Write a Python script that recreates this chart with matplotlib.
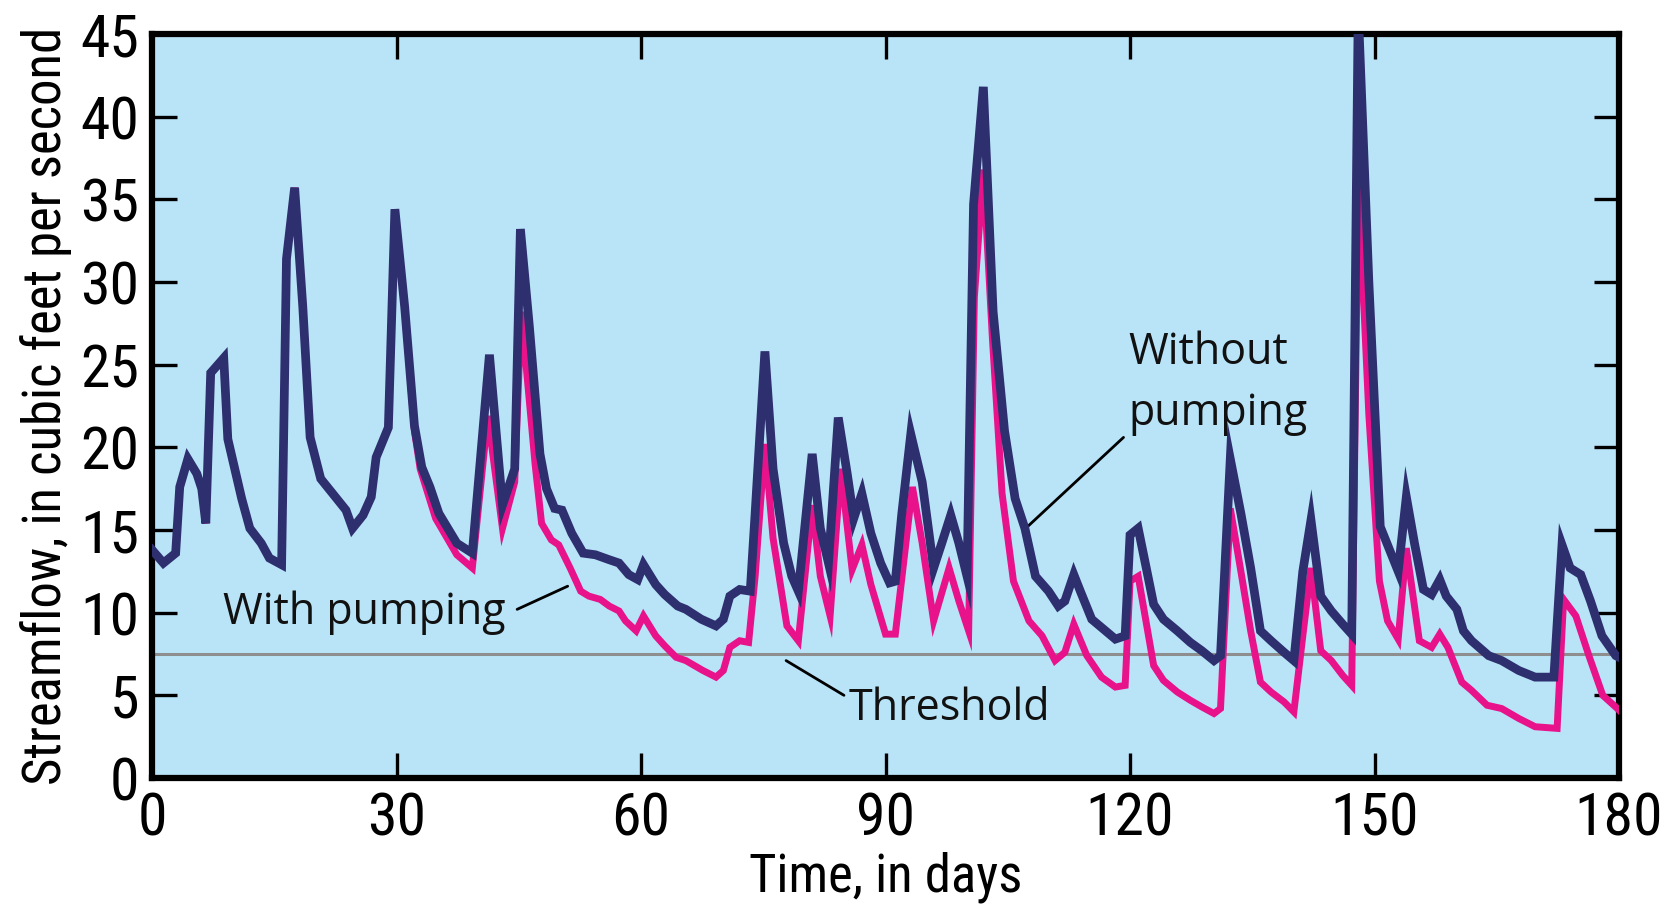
import os
import matplotlib
matplotlib.use("Agg")
import matplotlib.pyplot as plt
from matplotlib import font_manager as fm
from matplotlib.font_manager import FontProperties

# ---------------- data ----------------
days_without = [0, 1.4, 2.9, 3.4, 4.4, 5.5, 6.1, 6.6, 7.2, 8.8, 9.3, 10.1, 11.0, 12.0, 13.4,
                14.4, 15.9, 16.5, 17.5, 18.5, 19.4, 20.7, 23.8, 24.6, 25.9, 26.9, 27.5, 29.0,
                29.8, 31.0, 32.2, 33.1, 34.1, 35.2, 37.4, 39.3, 41.4, 43.0, 44.5, 45.2, 46.3,
                47.6, 48.4, 49.4, 50.3, 51.5, 52.9, 54.4, 56.1, 57.3, 58.5, 59.6, 60.3, 61.8,
                62.9, 64.5, 65.5, 67.4, 69.2, 70.1, 70.9, 72.1, 73.4, 74.0, 75.2, 76.2, 77.5,
                78.5, 79.3, 81.0, 82.0, 83.0, 84.2, 85.3, 86.1, 87.1, 88.2, 89.4, 90.5, 91.2,
                92.0, 93.1, 94.5, 95.9, 96.9, 98.0, 99.0, 100.0, 100.8, 102.0, 103.2, 104.6,
                105.9, 107.1, 108.4, 110.0, 111.2, 112.0, 113.1, 113.9, 115.3, 117.0, 118.2,
                119.4, 120.0, 121.0, 122.9, 124.1, 125.8, 127.4, 128.8, 130.3, 131.1, 132.3,
                133.6, 134.8, 136.0, 137.3, 138.9, 140.1, 141.2, 142.2, 143.4, 144.7, 146.1,
                147.2, 148.0, 149.3, 150.7, 152.9, 153.9, 154.9, 156.0, 157.0, 158.0, 158.8,
                160.1, 160.9, 161.9, 164.0, 165.6, 167.7, 169.7, 172.0, 173.0, 174.0, 175.3,
                176.5, 177.9, 179.6, 180.0]
flow_without = [13.8, 13.0, 13.6, 17.6, 19.3, 18.4, 17.5, 15.4, 24.5, 25.4, 20.5, 18.8, 16.9,
                15.1, 14.2, 13.3, 12.9, 31.4, 35.7, 28.5, 20.6, 18.1, 16.2, 15.1, 15.9, 17.0,
                19.4, 21.2, 34.4, 28.5, 21.3, 18.8, 17.6, 16.0, 14.2, 13.6, 25.6, 16.5, 18.7,
                33.2, 27.3, 19.6, 17.5, 16.3, 16.2, 14.8, 13.6, 13.5, 13.2, 13.0, 12.3, 12.0,
                12.9, 11.7, 11.1, 10.4, 10.2, 9.6, 9.2, 9.6, 11.0, 11.4, 11.3, 16.0, 25.8,
                18.7, 14.2, 12.2, 11.3, 19.6, 15.1, 13.0, 21.8, 18.4, 15.7, 17.2, 14.8, 13.0,
                11.8, 11.9, 16.0, 20.8, 17.9, 12.7, 14.2, 15.9, 14.2, 12.2, 34.7, 41.8, 28.2,
                21.0, 16.9, 15.1, 12.2, 11.3, 10.4, 10.7, 12.3, 11.3, 9.6, 8.9, 8.4, 8.6, 14.7,
                15.1, 10.5, 9.6, 8.9, 8.2, 7.7, 7.1, 7.4, 19.3, 16.0, 12.7, 8.9, 8.3, 7.6, 7.1,
                12.5, 15.6, 11.0, 10.1, 9.3, 8.7, 46.5, 30.0, 15.2, 12.5, 17.0, 14.2, 11.4,
                11.1, 12.0, 11.0, 10.2, 8.9, 8.3, 7.4, 7.1, 6.5, 6.1, 6.1, 14.1, 12.7, 12.3,
                10.7, 8.6, 7.4, 7.3]

days_with = [0, 1.4, 2.9, 3.4, 4.4, 5.5, 6.1, 6.6, 7.2, 8.8, 9.3, 10.1, 11.0, 12.0, 13.4,
             14.4, 15.9, 16.5, 17.5, 18.5, 19.4, 20.7, 23.8, 24.6, 25.9, 26.9, 27.5, 29.0,
             29.8, 31.0, 32.2, 32.9, 34.8, 37.4, 39.3, 41.2, 43.0, 44.5, 45.3, 47.0, 47.8,
             49.0, 49.9, 51.3, 52.6, 53.6, 55.0, 56.1, 57.3, 58.1, 59.4, 60.3, 61.8, 62.9,
             64.3, 65.5, 67.6, 69.2, 70.1, 70.9, 72.1, 73.2, 74.0, 75.2, 76.2, 77.9, 79.3,
             81.0, 82.0, 83.2, 84.5, 85.9, 87.1, 88.2, 90.0, 91.2, 93.3, 94.5, 95.9, 97.8,
             99.0, 100.2, 100.9, 102.0, 103.1, 104.3, 105.7, 107.6, 109.2, 110.8, 112.0,
             113.1, 114.7, 116.5, 118.2, 119.4, 120.0, 121.0, 122.9, 124.1, 125.8, 127.4,
             128.8, 130.3, 131.1, 132.3, 133.6, 134.8, 136.0, 137.3, 138.9, 140.1, 141.2,
             142.2, 143.4, 144.7, 146.1, 147.2, 148.0, 149.3, 150.6, 151.6, 152.9, 153.9,
             155.5, 157.0, 158.0, 159.0, 160.7, 161.9, 163.8, 165.6, 167.7, 169.7, 172.4,
             173.2, 174.7, 176.3, 178.0, 179.8, 180.0]
flow_with = [13.8, 13.0, 13.6, 17.6, 19.3, 18.4, 17.5, 15.4, 24.5, 25.4, 20.5, 18.8, 16.9,
             15.1, 14.2, 13.3, 12.9, 31.4, 35.7, 28.5, 20.6, 18.1, 16.2, 15.1, 15.9, 17.0,
             19.4, 21.2, 34.4, 28.5, 21.0, 18.7, 15.7, 13.5, 12.7, 21.9, 15.1, 17.9, 28.2,
             19.0, 15.4, 14.4, 14.1, 12.7, 11.3, 11.0, 10.8, 10.4, 10.1, 9.5, 8.9, 9.8, 8.6,
             8.0, 7.3, 7.1, 6.5, 6.1, 6.5, 7.9, 8.3, 8.2, 12.2, 20.2, 14.5, 9.2, 8.3, 16.5,
             12.2, 9.8, 18.7, 12.6, 14.1, 11.7, 8.7, 8.7, 17.6, 14.2, 9.5, 12.7, 10.7, 8.9,
             29.1, 36.8, 26.7, 17.2, 11.9, 9.5, 8.6, 7.1, 7.6, 9.3, 7.4, 6.1, 5.5, 5.6, 11.9,
             12.2, 6.8, 5.9, 5.2, 4.7, 4.3, 3.9, 4.2, 16.3, 12.5, 8.9, 5.8, 5.2, 4.6, 4.0,
             8.6, 12.7, 7.7, 7.1, 6.2, 5.6, 36.0, 22.0, 11.9, 9.5, 8.4, 13.9, 8.3, 7.9, 8.7,
             7.9, 5.8, 5.3, 4.4, 4.2, 3.6, 3.1, 3.0, 10.8, 9.8, 7.4, 5.0, 4.2, 4.1]

threshold = 7.5
x_ticks = [0, 30, 60, 90, 120, 150, 180]
y_ticks = [0, 5, 10, 15, 20, 25, 30, 35, 40, 45]

# ---------------- fonts: look for a narrow / condensed regular face ----------------
bad = ("bold", "italic", "oblique", "light", "medium", "semi", "thin", "black",
       "extra", "heavy", "mono", "serif", "demi")
cands = []
for f in fm.fontManager.ttflist:
    base = os.path.basename(f.fname).lower()
    if ("narrow" in base or "condensed" in base) and not any(b in base for b in bad):
        cands.append(f.fname)
pref = ["liberationsansnarrow", "robotocondensed", "dejavusanscondensed", "opensans"]
cands.sort(key=lambda p: next((i for i, k in enumerate(pref)
                               if k in os.path.basename(p).lower().replace("-", "").replace("_", "")),
                              len(pref)))
if cands:
    cond_fp = lambda size: FontProperties(fname=cands[0], size=size)
    tick_size, xlab_size, ylab_size = 43, 38, 38
else:
    cond_fp = lambda size: FontProperties(family="DejaVu Sans", size=size)
    tick_size, xlab_size, ylab_size = 33, 33, 29
label_family = ["Open Sans", "DejaVu Sans"]

navy = "#2e2f6e"
pink = "#e8128a"
bg = "#b9e4f8"

fig = plt.figure(figsize=(16.65, 9.06), dpi=100)
ax = fig.add_axes([0.0913, 0.1413, 0.8811, 0.8212])
ax.set_facecolor(bg)

ax.axhline(threshold, color="#8e8e8e", lw=2.2, zorder=2)
ax.plot(days_with, flow_with, color=pink, lw=5.0, solid_joinstyle="miter", zorder=3)
ax.plot(days_without, flow_without, color=navy, lw=6.3, solid_joinstyle="miter", zorder=4)

ax.set_xlim(0, 180)
ax.set_ylim(0, 45)
ax.set_xticks(x_ticks)
ax.set_xticklabels([str(v) for v in x_ticks], fontproperties=cond_fp(tick_size))
ax.set_yticks(y_ticks)
ax.set_yticklabels([str(v) for v in y_ticks], fontproperties=cond_fp(tick_size))
ax.tick_params(direction="in", length=18, width=2.4, top=True, right=True,
               pad=9, color="black")
for s in ax.spines.values():
    s.set_linewidth(4.5)
    s.set_color("black")

ax.set_xlabel("Time, in days", fontproperties=cond_fp(xlab_size), labelpad=3)
ax.set_ylabel("Streamflow, in cubic feet per second", fontproperties=cond_fp(ylab_size),
              labelpad=6)

# annotations
tkw = dict(fontsize=31, family=label_family, color="#111111", zorder=6)
ax.text(8.7, 10.0, "With pumping", ha="left", va="center", **tkw)
ax.annotate("", xy=(51.0, 11.6), xytext=(44.8, 10.2),
            arrowprops=dict(arrowstyle="-", lw=2, color="black", shrinkA=0, shrinkB=0))
ax.text(85.5, 4.2, "Threshold", ha="left", va="center", **tkw)
ax.annotate("", xy=(77.8, 7.1), xytext=(84.9, 5.0),
            arrowprops=dict(arrowstyle="-", lw=2, color="black", shrinkA=0, shrinkB=0))
ax.text(119.8, 25.7, "Without", ha="left", va="center", **tkw)
ax.text(119.8, 22.0, "pumping", ha="left", va="center", **tkw)
ax.annotate("", xy=(107.2, 15.1), xytext=(119.2, 20.6),
            arrowprops=dict(arrowstyle="-", lw=2, color="black", shrinkA=0, shrinkB=0))

fig.savefig("out.png", dpi=100, facecolor="white")
